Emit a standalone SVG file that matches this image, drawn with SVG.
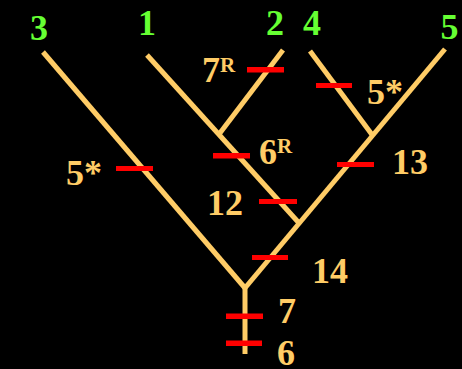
<svg xmlns="http://www.w3.org/2000/svg" width="462" height="369" viewBox="0 0 462 369">
<style>
.br{stroke:#FFCC66;stroke-width:5;fill:none;stroke-linecap:butt}
.tk{fill:#FF0000}
.lf{font-family:"Liberation Serif","Times New Roman",serif;font-weight:bold;font-size:36px;fill:#66FF33;text-anchor:middle}
.lb{font-family:"Liberation Serif","Times New Roman",serif;font-weight:bold;font-size:36px;fill:#FFCC66}
.sup{font-size:21px}
</style>
<rect width="462" height="369" fill="#000000"/>
<g id="connectors">
<line class="br" x1="245" y1="354" x2="245" y2="288"/>
<line class="br" x1="43" y1="52" x2="245" y2="288"/>
<line class="br" x1="445" y1="49" x2="245" y2="288"/>
<line class="br" x1="147" y1="55" x2="299" y2="223"/>
<line class="br" x1="283" y1="50" x2="220" y2="133"/>
<line class="br" x1="310" y1="51" x2="373" y2="136"/>
</g>
<g id="ticks">
<rect class="tk" x="116" y="166" width="37" height="5"/>
<rect class="tk" x="247" y="67" width="37" height="5.5"/>
<rect class="tk" x="213" y="153" width="37" height="5.5"/>
<rect class="tk" x="316" y="83" width="36" height="5"/>
<rect class="tk" x="337" y="162" width="37" height="5"/>
<rect class="tk" x="259" y="199" width="38" height="5"/>
<rect class="tk" x="252" y="255" width="36" height="5"/>
<rect class="tk" x="226" y="313.5" width="37" height="5.5"/>
<rect class="tk" x="226" y="340.5" width="36" height="5.5"/>
</g>
<g id="leaf3"><text class="lf" x="39" y="40">3</text></g>
<g id="leaf1"><text class="lf" x="147" y="35">1</text></g>
<g id="leaf2"><text class="lf" x="275" y="35">2</text></g>
<g id="leaf4"><text class="lf" x="312" y="35">4</text></g>
<g id="leaf5"><text class="lf" x="449.5" y="39">5</text></g>
<g id="c7R"><text class="lb" x="202" y="82">7<tspan class="sup" dy="-10">R</tspan></text></g>
<g id="c6R"><text class="lb" x="259" y="164">6<tspan class="sup" dy="-11">R</tspan></text></g>
<g id="c5a"><text class="lb" x="367" y="104">5*</text></g>
<g id="c5b"><text class="lb" x="66" y="185">5*</text></g>
<g id="c13"><text class="lb" x="392" y="174">13</text></g>
<g id="c12"><text class="lb" x="207" y="215">12</text></g>
<g id="c14"><text class="lb" x="312" y="283">14</text></g>
<g id="c7"><text class="lb" x="278" y="323">7</text></g>
<g id="c6"><text class="lb" x="277" y="365">6</text></g>
</svg>
